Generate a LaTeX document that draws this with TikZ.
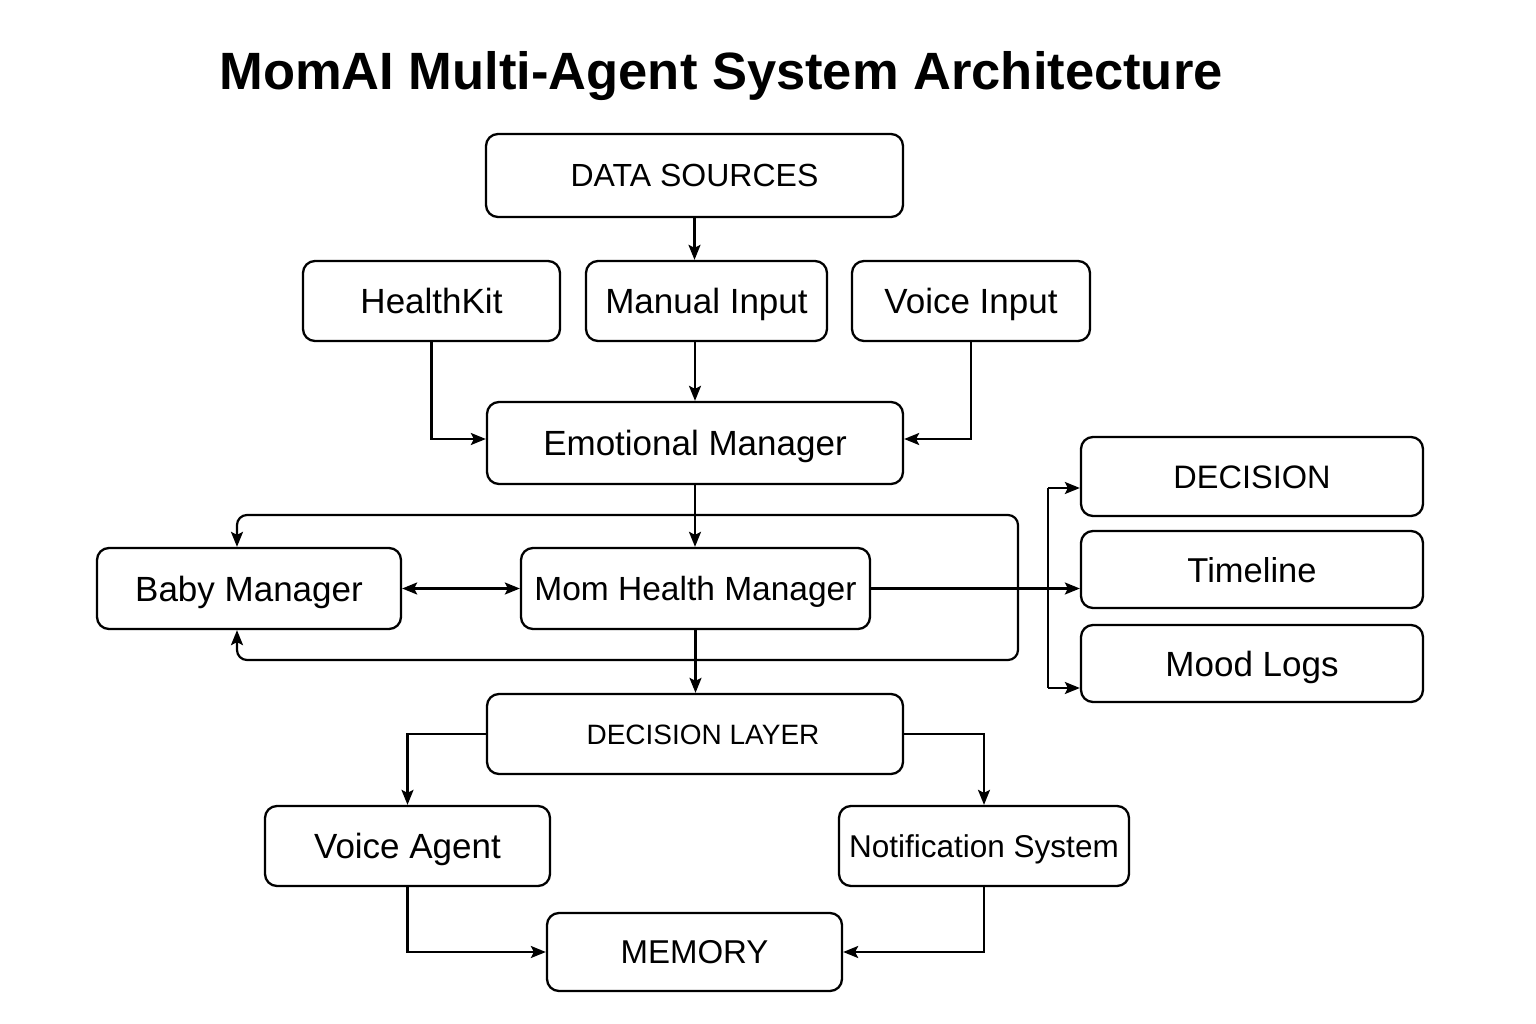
\documentclass[tikz,border=0pt]{standalone}
\usepackage{fontspec}
\setmainfont{Liberation Sans}
\usepackage{tikz}
\usetikzlibrary{arrows.meta, positioning, calc}

\begin{document}
\begin{tikzpicture}[x=1pt, y=-1pt,
    >={Stealth[length=15pt, width=12pt, inset=3pt]},
    box/.style={draw, line width=2.3pt, rounded corners=12pt, align=center,
                inner sep=0pt, text height=25pt, text depth=0pt,
                font=\fontsize{35}{40}\selectfont},
    link/.style={->, line width=2.2pt}]
  \useasboundingbox[fill=white] (0,0) rectangle (1536,1024);

  \node[anchor=base, font=\fontsize{52.5}{60}\selectfont\bfseries] (title) at (721,90)
       {MomAI Multi-Agent System Architecture};

  % sources
  \node[box, minimum width=417, minimum height=83, text height=23pt, font=\fontsize{32}{38}\selectfont] (datasrc) at (694.5,175.5) {DATA SOURCES};
  \node[box, minimum width=257, minimum height=80] (healthkit) at (431.5,301) {HealthKit};
  \node[box, minimum width=241, minimum height=80] (manual) at (706.5,301) {Manual Input};
  \node[box, minimum width=238, minimum height=80] (voicein) at (971,301) {Voice Input};

  % managers
  \node[box, minimum width=416, minimum height=82] (emo) at (695,443) {Emotional Manager};
  \node[box, minimum width=304, minimum height=81] (baby) at (249,588.5) {Baby Manager};
  \node[box, minimum width=349, minimum height=81, text height=24pt, font=\fontsize{33.5}{38}\selectfont] (momh) at (695.5,588.5) {Mom Health Manager};

  % outputs
  \node[box, minimum width=342, minimum height=79, text height=23pt, font=\fontsize{32.5}{38}\selectfont] (decision) at (1252,476.5) {DECISION};
  \node[box, minimum width=342, minimum height=77, font=\fontsize{34.5}{38}\selectfont] (timeline) at (1252,569.5) {Timeline};
  \node[box, minimum width=342, minimum height=77] (mood) at (1252,663.5) {Mood Logs};

  % decision layer
  \node[box, minimum width=416, minimum height=80, text height=20pt, font=\fontsize{28}{34}\selectfont] (declayer) at (695,734) {\hspace*{16pt}DECISION LAYER};
  \node[box, minimum width=285, minimum height=80] (voiceag) at (407.5,846) {Voice Agent};
  \node[box, minimum width=290, minimum height=80, text height=22.5pt, font=\fontsize{31.5}{36}\selectfont] (notif) at (984,846) {Notification System};
  \node[box, minimum width=295, minimum height=78, text height=23.5pt, font=\fontsize{33}{38}\selectfont] (memory) at (694.5,952) {MEMORY};

  % connectors
  \draw[link] (datasrc.south) -- (datasrc.south |- manual.north);
  \draw[link] (emo.north |- manual.south) -- (emo.north);
  \draw[link] (healthkit.south) |- ([yshift=4pt]emo.west);
  \draw[link] (voicein.south) |- ([yshift=4pt]emo.east);
  \draw[link] (emo.south) -- (emo.south |- momh.north);

  \coordinate (loopNE) at (1018,515);
  \coordinate (loopSE) at (1018,660);
  \draw[<->, line width=2.2pt, rounded corners=10pt]
       ([xshift=-12pt]baby.north) |- (loopNE) -- (loopSE) -| ([xshift=-12pt]baby.south);
  \draw[<->, line width=2.2pt] (baby.east) -- (momh.west);

  \path (momh.east) -- ++(177,0) coordinate (split);
  \draw[link] (momh.east) -- (timeline.west |- momh.east);
  \draw[line width=2.2pt] ([yshift=-11.5pt]decision.west -| split) -- ([yshift=-24.5pt]mood.west -| split);
  \draw[link] ([yshift=-11.5pt]decision.west -| split) -- ([yshift=-11.5pt]decision.west);
  \draw[link] ([yshift=-24.5pt]mood.west -| split) -- ([yshift=-24.5pt]mood.west);

  \draw[link] (momh.south) -- (momh.south |- declayer.north);
  \draw[link] (declayer.west) -| (voiceag.north);
  \draw[link] (declayer.east) -| (notif.north);
  \draw[link] (voiceag.south) |- (memory.west);
  \draw[link] (notif.south) |- (memory.east);
\end{tikzpicture}
\end{document}
